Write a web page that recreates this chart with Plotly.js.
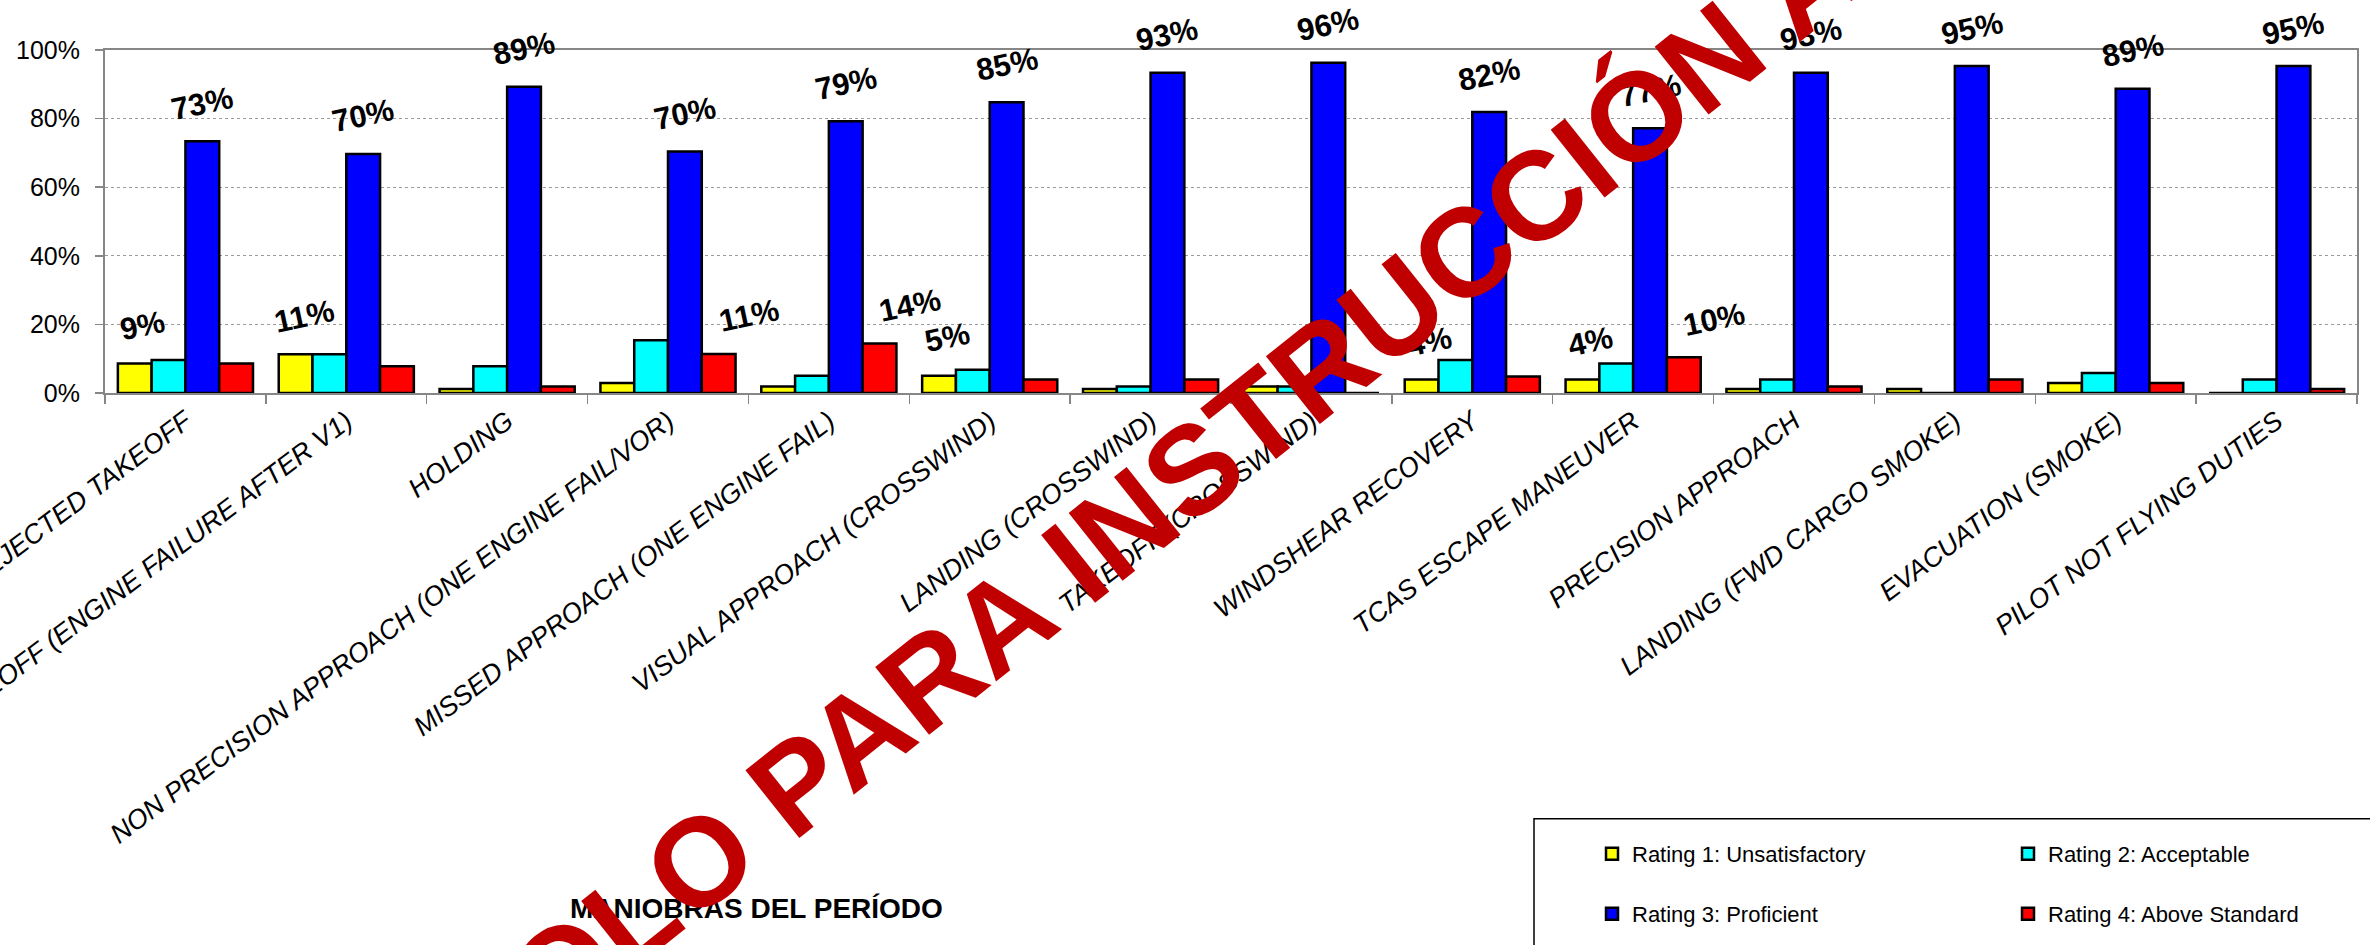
<!DOCTYPE html>
<html><head><meta charset="utf-8">
<script src="https://cdn.plot.ly/plotly-3.0.1.min.js"></script>
<style>html,body{margin:0;padding:0;background:#fff;} #chart{width:2370px;height:945px;}</style>
</head><body><div id="chart"></div>
<script>
const categories = ['REJECTED TAKEOFF','TAKEOFF (ENGINE FAILURE AFTER V1)','HOLDING','NON PRECISION APPROACH (ONE ENGINE FAIL/VOR)','MISSED APPROACH (ONE ENGINE FAIL)','VISUAL APPROACH (CROSSWIND)','LANDING (CROSSWIND)','TAKEOFF (CROSSWIND)','WINDSHEAR RECOVERY','TCAS ESCAPE MANEUVER','PRECISION APPROACH','LANDING (FWD CARGO SMOKE)','EVACUATION (SMOKE)','PILOT NOT FLYING DUTIES'];
const rating1 = [8.6,11.3,1.2,2.9,1.9,5.0,1.2,1.9,3.9,3.9,1.2,1.2,2.9,0];
const rating2 = [9.6,11.3,7.8,15.4,5.0,6.8,1.9,1.9,9.6,8.6,3.9,0,5.8,3.9];
const rating3 = [73.4,69.7,89.3,70.4,79.2,84.8,93.4,96.3,81.9,77.2,93.4,95.3,88.7,95.3];
const rating4 = [8.6,7.8,1.9,11.4,14.4,3.9,3.9,0,4.8,10.4,1.9,3.9,2.9,1.2];
const labels1 = ['9%','11%','','','','5%','','','4%','4%','','','',''];
const labels2 = ['','','','','','','','','','','','','',''];
const labels3 = ['73%','70%','89%','70%','79%','85%','93%','96%','82%','77%','93%','95%','89%','95%'];
const labels4 = ['','','','11%','14%','','','','','10%','','','',''];
const seriesNames = ['Rating 1: Unsatisfactory','Rating 2: Acceptable','Rating 3: Proficient','Rating 4: Above Standard'];
const yTicks = [0,20,40,60,80,100];
const yTickText = ['0%','20%','40%','60%','80%','100%'];
const axisTitle = 'MANIOBRAS DEL PERÍODO';
const watermark = 'SOLO PARA INSTRUCCIÓN A';

const FONT = 'Liberation Sans, Arial, sans-serif';
const colors = ['#FFFF00','#00FFFF','#0000FF','#FF0000'];
const values = [rating1, rating2, rating3, rating4];
const labels = [labels1, labels2, labels3, labels4];
const legendIds = ['legend','legend2','legend3','legend4'];

const W = 2370, H = 945;
const M = {l:105, r:13, t:50, b:551};
const plotW = W - M.l - M.r, plotH = H - M.t - M.b;
const bargap = 0.16;
const barPx = plotW / categories.length * (1 - bargap) / 4;
const labelExtraShift = [8, 0, 0, 30];

const traces = values.map((v, k) => ({
  type: 'bar', x: categories, y: v, name: seriesNames[k],
  marker: {color: colors[k], line: {color: '#000000', width: 2.5}},
  legend: legendIds[k], hoverinfo: 'skip'
}));

const px2x = px => (px - M.l) / plotW;
const px2y = py => (H - M.b - py) / plotH;

const annotations = [];
labels.forEach((arr, k) => {
  arr.forEach((t, i) => {
    if (!t) return;
    annotations.push({
      xref: 'x', yref: 'y', x: categories[i], y: values[k][i],
      xshift: (k - 1.5) * barPx + labelExtraShift[k], yshift: 38,
      xanchor: 'center', yanchor: 'middle', showarrow: false,
      text: t, textangle: -12,
      font: {family: FONT, size: 31, color: '#000', weight: 'bold'}
    });
  });
});
annotations.push({
  xref: 'paper', yref: 'paper', x: px2x(756), y: px2y(911),
  xanchor: 'center', yanchor: 'middle', showarrow: false, text: axisTitle,
  font: {family: FONT, size: 28, color: '#000', weight: 'bold'}
});
annotations.push({
  xref: 'paper', yref: 'paper', x: px2x(1150), y: px2y(505),
  xanchor: 'center', yanchor: 'middle', showarrow: false, text: watermark,
  textangle: -38.5,
  font: {family: FONT, size: 126, color: '#C00000', weight: 'bold'}
});

const legendPos = [[1586, 854], [2002, 854], [1586, 914], [2002, 914]];
const legendCommon = {
  orientation: 'v', bgcolor: 'rgba(0,0,0,0)', borderwidth: 0,
  font: {family: FONT, size: 22, color: '#000'},
  xanchor: 'left', yanchor: 'middle', xref: 'paper', yref: 'paper'
};
const layout = {
  width: W, height: H, margin: M,
  paper_bgcolor: '#fff', plot_bgcolor: '#fff',
  barmode: 'group', bargap: bargap, bargroupgap: 0,
  showlegend: true,
  xaxis: {
    type: 'category', tickangle: -37,
    tickfont: {family: FONT, size: 27, color: '#000', style: 'italic'},
    ticks: 'outside', tickson: 'boundaries', ticklen: 9, tickcolor: '#868686', tickwidth: 1.5,
    showline: true, linecolor: '#868686', linewidth: 2, mirror: true,
    showgrid: false, zeroline: false, automargin: false
  },
  yaxis: {
    range: [0, 100], tickvals: yTicks, ticktext: yTickText,
    tickfont: {family: FONT, size: 25, color: '#000'},
    ticks: 'outside', ticklen: 8, tickcolor: '#868686', tickwidth: 1.5,
    ticklabelstandoff: 10,
    showline: true, linecolor: '#868686', linewidth: 2, mirror: true,
    showgrid: true, gridcolor: '#9a9a9a', griddash: 'dot', gridwidth: 1,
    zeroline: false, automargin: false
  },
  annotations: annotations,
  shapes: [{
    type: 'rect', xref: 'paper', yref: 'paper', layer: 'below',
    x0: px2x(1534), x1: px2x(2500), y0: px2y(821), y1: px2y(1100),
    line: {color: '#000', width: 1.5}, fillcolor: 'rgba(0,0,0,0)'
  }]
};
legendIds.forEach((id, k) => {
  layout[id] = Object.assign({}, legendCommon, {x: px2x(legendPos[k][0] + 6), y: px2y(legendPos[k][1])});
});

Plotly.newPlot('chart', traces, layout, {displayModeBar: false, staticPlot: true});
</script>
</body></html>
